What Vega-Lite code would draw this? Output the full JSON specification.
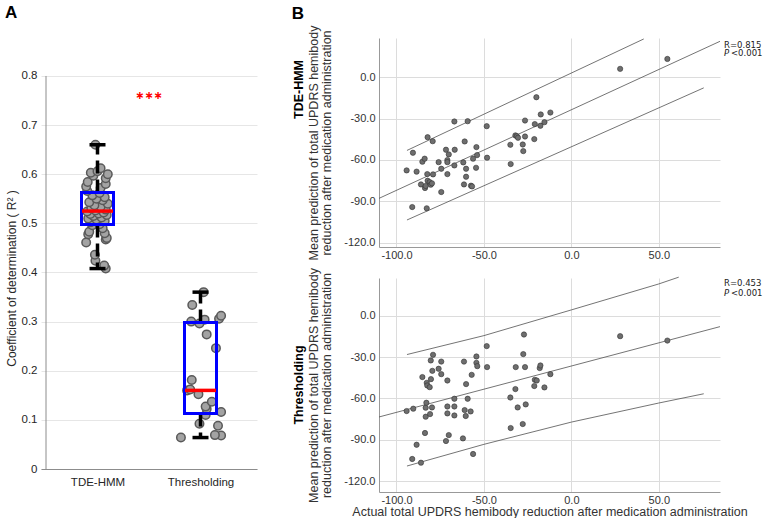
{
  "$schema": "https://vega.github.io/schema/vega-lite/v6.json",
  "padding": {"left": 5, "top": 4, "right": 0, "bottom": 0},
  "background": "white",
  "config": {
    "view": {"stroke": null},
    "font": "Liberation Sans",
    "axis": {"labelFont": "Liberation Sans", "titleFont": "Liberation Sans", "ticks": false, "labelColor": "#333333", "titleColor": "#333333", "titleFontWeight": "normal", "domainColor": "#999999", "gridColor": "#dcdcdc"},
    "title": {"font": "Liberation Sans", "fontWeight": "bold", "color": "#000000"}
  },
  "datasets": {
    "r2": [
      {"grp": 1, "xp": 1.08, "r2": 0.408}, {"grp": 1, "xp": 1.065, "r2": 0.414}, {"grp": 1, "xp": 0.98, "r2": 0.424}, {"grp": 1, "xp": 0.975, "r2": 0.436},
      {"grp": 1, "xp": 0.89, "r2": 0.461}, {"grp": 1, "xp": 1.08, "r2": 0.467}, {"grp": 1, "xp": 1.09, "r2": 0.470}, {"grp": 1, "xp": 0.91, "r2": 0.478},
      {"grp": 1, "xp": 1.07, "r2": 0.480}, {"grp": 1, "xp": 0.92, "r2": 0.483}, {"grp": 1, "xp": 1.05, "r2": 0.490}, {"grp": 1, "xp": 0.95, "r2": 0.496},
      {"grp": 1, "xp": 1.02, "r2": 0.498}, {"grp": 1, "xp": 0.93, "r2": 0.502}, {"grp": 1, "xp": 1.07, "r2": 0.505}, {"grp": 1, "xp": 0.99, "r2": 0.508},
      {"grp": 1, "xp": 0.91, "r2": 0.510}, {"grp": 1, "xp": 1.04, "r2": 0.512}, {"grp": 1, "xp": 0.96, "r2": 0.515}, {"grp": 1, "xp": 1.09, "r2": 0.517},
      {"grp": 1, "xp": 0.93, "r2": 0.519}, {"grp": 1, "xp": 1.01, "r2": 0.520}, {"grp": 1, "xp": 1.06, "r2": 0.522}, {"grp": 1, "xp": 0.90, "r2": 0.524},
      {"grp": 1, "xp": 0.98, "r2": 0.526}, {"grp": 1, "xp": 1.08, "r2": 0.528}, {"grp": 1, "xp": 0.94, "r2": 0.531}, {"grp": 1, "xp": 1.03, "r2": 0.534},
      {"grp": 1, "xp": 0.97, "r2": 0.537}, {"grp": 1, "xp": 1.10, "r2": 0.540}, {"grp": 1, "xp": 0.92, "r2": 0.543}, {"grp": 1, "xp": 1.05, "r2": 0.547},
      {"grp": 1, "xp": 0.99, "r2": 0.550}, {"grp": 1, "xp": 1.07, "r2": 0.553}, {"grp": 1, "xp": 0.95, "r2": 0.557}, {"grp": 1, "xp": 1.02, "r2": 0.562},
      {"grp": 1, "xp": 0.90, "r2": 0.566}, {"grp": 1, "xp": 1.03, "r2": 0.572}, {"grp": 1, "xp": 0.89, "r2": 0.575}, {"grp": 1, "xp": 1.08, "r2": 0.580},
      {"grp": 1, "xp": 0.905, "r2": 0.584}, {"grp": 1, "xp": 1.08, "r2": 0.592}, {"grp": 1, "xp": 0.96, "r2": 0.597}, {"grp": 1, "xp": 1.10, "r2": 0.600},
      {"grp": 1, "xp": 0.935, "r2": 0.603}, {"grp": 1, "xp": 1.00, "r2": 0.606}, {"grp": 1, "xp": 1.03, "r2": 0.612}, {"grp": 1, "xp": 0.98, "r2": 0.660},
      {"grp": 2, "xp": 1.81, "r2": 0.064}, {"grp": 2, "xp": 2.20, "r2": 0.068}, {"grp": 2, "xp": 2.14, "r2": 0.069}, {"grp": 2, "xp": 2.17, "r2": 0.088},
      {"grp": 2, "xp": 1.99, "r2": 0.092}, {"grp": 2, "xp": 2.05, "r2": 0.110}, {"grp": 2, "xp": 2.20, "r2": 0.116}, {"grp": 2, "xp": 2.06, "r2": 0.122},
      {"grp": 2, "xp": 2.05, "r2": 0.127}, {"grp": 2, "xp": 2.11, "r2": 0.137}, {"grp": 2, "xp": 1.98, "r2": 0.152}, {"grp": 2, "xp": 1.87, "r2": 0.160},
      {"grp": 2, "xp": 1.90, "r2": 0.162}, {"grp": 2, "xp": 1.915, "r2": 0.181}, {"grp": 2, "xp": 2.15, "r2": 0.246}, {"grp": 2, "xp": 2.06, "r2": 0.274},
      {"grp": 2, "xp": 1.99, "r2": 0.296}, {"grp": 2, "xp": 1.91, "r2": 0.300}, {"grp": 2, "xp": 2.04, "r2": 0.304}, {"grp": 2, "xp": 2.18, "r2": 0.306},
      {"grp": 2, "xp": 2.20, "r2": 0.312}, {"grp": 2, "xp": 1.92, "r2": 0.334}, {"grp": 2, "xp": 2.03, "r2": 0.360}
    ],
    "scatter": [
      {"m": "TDE-HMM", "a": -94.2, "p": -67.6}, {"m": "TDE-HMM", "a": -91.0, "p": -94.2}, {"m": "TDE-HMM", "a": -90.6, "p": -54.8}, {"m": "TDE-HMM", "a": -88.5, "p": -68.5},
      {"m": "TDE-HMM", "a": -86.0, "p": -77.8}, {"m": "TDE-HMM", "a": -85.2, "p": -61.3}, {"m": "TDE-HMM", "a": -83.9, "p": -59.1}, {"m": "TDE-HMM", "a": -83.7, "p": -80.4},
      {"m": "TDE-HMM", "a": -83.3, "p": -78.9}, {"m": "TDE-HMM", "a": -82.7, "p": -95.1}, {"m": "TDE-HMM", "a": -82.4, "p": -70.3}, {"m": "TDE-HMM", "a": -82.2, "p": -43.5},
      {"m": "TDE-HMM", "a": -82.2, "p": -75.1}, {"m": "TDE-HMM", "a": -81.0, "p": -76.1}, {"m": "TDE-HMM", "a": -80.4, "p": -78.0}, {"m": "TDE-HMM", "a": -79.7, "p": -77.0},
      {"m": "TDE-HMM", "a": -79.3, "p": -46.4}, {"m": "TDE-HMM", "a": -79.1, "p": -70.5}, {"m": "TDE-HMM", "a": -75.9, "p": -61.6}, {"m": "TDE-HMM", "a": -74.4, "p": -66.4},
      {"m": "TDE-HMM", "a": -74.4, "p": -83.3}, {"m": "TDE-HMM", "a": -71.7, "p": -52.6}, {"m": "TDE-HMM", "a": -70.9, "p": -60.1}, {"m": "TDE-HMM", "a": -70.9, "p": -61.6},
      {"m": "TDE-HMM", "a": -70.1, "p": -56.0}, {"m": "TDE-HMM", "a": -70.9, "p": -70.3}, {"m": "TDE-HMM", "a": -66.9, "p": -32.1}, {"m": "TDE-HMM", "a": -66.7, "p": -52.6},
      {"m": "TDE-HMM", "a": -66.9, "p": -64.0}, {"m": "TDE-HMM", "a": -61.8, "p": -61.8}, {"m": "TDE-HMM", "a": -61.4, "p": -77.8}, {"m": "TDE-HMM", "a": -61.0, "p": -46.6},
      {"m": "TDE-HMM", "a": -60.2, "p": -66.4}, {"m": "TDE-HMM", "a": -60.2, "p": -72.2}, {"m": "TDE-HMM", "a": -59.3, "p": -31.9}, {"m": "TDE-HMM", "a": -57.4, "p": -78.7},
      {"m": "TDE-HMM", "a": -56.8, "p": -79.2}, {"m": "TDE-HMM", "a": -56.2, "p": -59.1}, {"m": "TDE-HMM", "a": -54.3, "p": -50.7}, {"m": "TDE-HMM", "a": -53.9, "p": -56.5},
      {"m": "TDE-HMM", "a": -54.5, "p": -65.7}, {"m": "TDE-HMM", "a": -48.4, "p": -35.5}, {"m": "TDE-HMM", "a": -48.2, "p": -58.4}, {"m": "TDE-HMM", "a": -34.9, "p": -49.0},
      {"m": "TDE-HMM", "a": -34.7, "p": -63.0}, {"m": "TDE-HMM", "a": -32.0, "p": -42.2}, {"m": "TDE-HMM", "a": -31.2, "p": -42.8}, {"m": "TDE-HMM", "a": -30.5, "p": -43.9},
      {"m": "TDE-HMM", "a": -27.8, "p": -48.8}, {"m": "TDE-HMM", "a": -27.5, "p": -53.6}, {"m": "TDE-HMM", "a": -26.5, "p": -31.4}, {"m": "TDE-HMM", "a": -26.5, "p": -43.0},
      {"m": "TDE-HMM", "a": -21.2, "p": -44.9}, {"m": "TDE-HMM", "a": -20.9, "p": -34.0}, {"m": "TDE-HMM", "a": -20.0, "p": -14.5}, {"m": "TDE-HMM", "a": -17.7, "p": -35.2},
      {"m": "TDE-HMM", "a": -17.5, "p": -27.0}, {"m": "TDE-HMM", "a": -15.4, "p": -32.6}, {"m": "TDE-HMM", "a": -12.0, "p": -25.6}, {"m": "TDE-HMM", "a": 27.9, "p": 6.1},
      {"m": "TDE-HMM", "a": 54.9, "p": 13.3},
      {"m": "Thresholding", "a": -94.2, "p": -69.1}, {"m": "Thresholding", "a": -90.4, "p": -67.4}, {"m": "Thresholding", "a": -91.0, "p": -103.8}, {"m": "Thresholding", "a": -88.5, "p": -93.5},
      {"m": "Thresholding", "a": -86.0, "p": -106.5}, {"m": "Thresholding", "a": -85.2, "p": -44.5}, {"m": "Thresholding", "a": -83.7, "p": -85.0}, {"m": "Thresholding", "a": -83.3, "p": -73.2},
      {"m": "Thresholding", "a": -83.3, "p": -66.7}, {"m": "Thresholding", "a": -82.9, "p": -63.1}, {"m": "Thresholding", "a": -82.7, "p": -48.7}, {"m": "Thresholding", "a": -82.4, "p": -50.6},
      {"m": "Thresholding", "a": -81.0, "p": -51.8}, {"m": "Thresholding", "a": -80.8, "p": -71.3}, {"m": "Thresholding", "a": -80.3, "p": -46.0}, {"m": "Thresholding", "a": -79.7, "p": -66.5},
      {"m": "Thresholding", "a": -79.5, "p": -40.0}, {"m": "Thresholding", "a": -80.4, "p": -32.5}, {"m": "Thresholding", "a": -79.1, "p": -28.4}, {"m": "Thresholding", "a": -75.9, "p": -38.5},
      {"m": "Thresholding", "a": -74.4, "p": -33.3}, {"m": "Thresholding", "a": -74.4, "p": -42.4}, {"m": "Thresholding", "a": -71.7, "p": -90.8}, {"m": "Thresholding", "a": -70.9, "p": -47.0},
      {"m": "Thresholding", "a": -70.9, "p": -65.8}, {"m": "Thresholding", "a": -70.9, "p": -70.8}, {"m": "Thresholding", "a": -70.1, "p": -86.5}, {"m": "Thresholding", "a": -66.9, "p": -60.2},
      {"m": "Thresholding", "a": -66.9, "p": -65.8}, {"m": "Thresholding", "a": -66.9, "p": -72.3}, {"m": "Thresholding", "a": -62.0, "p": -88.9}, {"m": "Thresholding", "a": -61.4, "p": -33.3},
      {"m": "Thresholding", "a": -61.0, "p": -68.4}, {"m": "Thresholding", "a": -60.4, "p": -72.7}, {"m": "Thresholding", "a": -60.2, "p": -49.6}, {"m": "Thresholding", "a": -59.3, "p": -60.2},
      {"m": "Thresholding", "a": -57.6, "p": -69.4}, {"m": "Thresholding", "a": -57.0, "p": -42.9}, {"m": "Thresholding", "a": -56.2, "p": -100.2}, {"m": "Thresholding", "a": -54.3, "p": -29.6},
      {"m": "Thresholding", "a": -54.3, "p": -34.2}, {"m": "Thresholding", "a": -53.8, "p": -36.6}, {"m": "Thresholding", "a": -48.4, "p": -22.1}, {"m": "Thresholding", "a": -48.2, "p": -37.3},
      {"m": "Thresholding", "a": -34.9, "p": -59.3}, {"m": "Thresholding", "a": -34.7, "p": -81.4}, {"m": "Thresholding", "a": -32.0, "p": -53.2}, {"m": "Thresholding", "a": -31.8, "p": -37.3},
      {"m": "Thresholding", "a": -30.7, "p": -66.5}, {"m": "Thresholding", "a": -27.8, "p": -78.5}, {"m": "Thresholding", "a": -27.5, "p": -27.9}, {"m": "Thresholding", "a": -27.1, "p": -13.7},
      {"m": "Thresholding", "a": -26.5, "p": -37.3}, {"m": "Thresholding", "a": -26.1, "p": -64.3}, {"m": "Thresholding", "a": -21.2, "p": -51.0}, {"m": "Thresholding", "a": -20.9, "p": -46.5},
      {"m": "Thresholding", "a": -19.8, "p": -47.0}, {"m": "Thresholding", "a": -18.1, "p": -38.0}, {"m": "Thresholding", "a": -17.7, "p": -36.1}, {"m": "Thresholding", "a": -15.4, "p": -52.0},
      {"m": "Thresholding", "a": -12.0, "p": -42.4}, {"m": "Thresholding", "a": 27.9, "p": -14.9}, {"m": "Thresholding", "a": 54.9, "p": -18.1}
    ],
    "lines": [
      {"m": "TDE-HMM", "band": "fit", "a": -110, "p": -87.9}, {"m": "TDE-HMM", "band": "fit", "a": 85, "p": 26.1},
      {"m": "TDE-HMM", "band": "upper", "a": -94, "p": -53.1}, {"m": "TDE-HMM", "band": "upper", "a": 41.4, "p": 27.8},
      {"m": "TDE-HMM", "band": "lower", "a": -94, "p": -103.6}, {"m": "TDE-HMM", "band": "lower", "a": 75.7, "p": -7.7},
      {"m": "Thresholding", "band": "fit", "a": -110, "p": -73.4}, {"m": "Thresholding", "band": "fit", "a": 85, "p": -8.0},
      {"m": "Thresholding", "band": "upper", "a": -94, "p": -28.2}, {"m": "Thresholding", "band": "upper", "a": -50, "p": -14.5}, {"m": "Thresholding", "band": "upper", "a": 0, "p": 4.1}, {"m": "Thresholding", "band": "upper", "a": 50, "p": 22.9}, {"m": "Thresholding", "band": "upper", "a": 61.4, "p": 27.8},
      {"m": "Thresholding", "band": "lower", "a": -94, "p": -108.9}, {"m": "Thresholding", "band": "lower", "a": -50, "p": -93.2}, {"m": "Thresholding", "band": "lower", "a": 0, "p": -77.1}, {"m": "Thresholding", "band": "lower", "a": 50, "p": -63.3}, {"m": "Thresholding", "band": "lower", "a": 75.7, "p": -56.6}
    ],
    "stats": [
      {"m": "TDE-HMM", "r": "R=0.815", "pv": "<0.001"},
      {"m": "Thresholding", "r": "R=0.453", "pv": "<0.001"}
    ]
  },
  "bounds": "flush",
  "spacing": 122,
  "hconcat": [
    {
      "width": 216,
      "height": 431,
      "title": {"text": "A", "anchor": "start", "fontSize": 17, "offset": 16},
      "layer": [
        {
          "data": {"name": "r2"},
          "mark": {"type": "circle", "size": 72, "fill": "#a3a3a3", "stroke": "#595959", "strokeWidth": 1.5, "opacity": 1},
          "encoding": {
            "x": {"field": "xp", "type": "quantitative", "scale": {"domain": [0.5, 2.5], "nice": false, "zero": false},
                  "axis": {"values": [1, 2], "labelExpr": "datum.value == 1 ? 'TDE-HMM' : 'Thresholding'", "title": null, "grid": false, "labelFontSize": 11.5, "labelPadding": 7, "domainColor": "#8c8c8c", "labelColor": "#262626"}},
            "y": {"field": "r2", "type": "quantitative", "scale": {"domain": [0, 0.8773], "nice": false},
                  "axis": {"values": [0, 0.1, 0.2, 0.3, 0.4, 0.5, 0.6, 0.7, 0.8], "format": "~g", "title": "Coefficient of determination ( R² )", "titleY": 240, "domain": false, "grid": true, "gridColor": "#e6e6e6", "labelFontSize": 11.5, "titleFontSize": 12, "labelPadding": 4, "titlePadding": 3, "labelColor": "#262626", "titleColor": "#262626"}}
          }
        },
        {
          "data": {"values": [{"lo": 0, "hi": 0.8}]},
          "mark": {"type": "rule", "color": "#8c8c8c", "strokeWidth": 1},
          "encoding": {"x": {"datum": 0.5}, "y": {"field": "lo", "type": "quantitative"}, "y2": {"field": "hi"}}
        },
        {
          "data": {"name": "r2"},
          "transform": [
            {"aggregate": [
              {"op": "min", "field": "r2", "as": "lo"},
              {"op": "q1", "field": "r2", "as": "q1"},
              {"op": "median", "field": "r2", "as": "med"},
              {"op": "q3", "field": "r2", "as": "q3"},
              {"op": "max", "field": "r2", "as": "hi"}
            ], "groupby": ["grp"]}
          ],
          "encoding": {"x": {"field": "grp", "type": "quantitative"}},
          "layer": [
            {"mark": {"type": "rule", "color": "#000000", "strokeWidth": 3.5, "strokeDash": [13, 6]}, "encoding": {"y": {"field": "q3", "type": "quantitative"}, "y2": {"field": "hi"}}},
            {"mark": {"type": "rule", "color": "#000000", "strokeWidth": 3.5, "strokeDash": [13, 6]}, "encoding": {"y": {"field": "q1", "type": "quantitative"}, "y2": {"field": "lo"}}},
            {"mark": {"type": "tick", "orient": "horizontal", "color": "#000000", "size": 16, "thickness": 3.5, "opacity": 1}, "encoding": {"y": {"field": "hi", "type": "quantitative"}}},
            {"mark": {"type": "tick", "orient": "horizontal", "color": "#000000", "size": 16, "thickness": 3.5, "opacity": 1}, "encoding": {"y": {"field": "lo", "type": "quantitative"}}},
            {"mark": {"type": "bar", "size": 32, "fill": "#ffffff", "fillOpacity": 0, "stroke": "#0000ff", "strokeWidth": 3}, "encoding": {"y": {"field": "q1", "type": "quantitative"}, "y2": {"field": "q3"}}},
            {"mark": {"type": "tick", "orient": "horizontal", "color": "#ff0000", "size": 31, "thickness": 3.5, "opacity": 1}, "encoding": {"y": {"field": "med", "type": "quantitative"}}}
          ]
        },
        {
          "data": {"values": [{"sig": "∗∗∗"}]},
          "mark": {"type": "text", "color": "#ff0000", "font": "DejaVu Sans", "fontSize": 11, "fontWeight": "bold", "baseline": "middle", "align": "center"},
          "encoding": {"x": {"datum": 1.5}, "y": {"datum": 0.76}, "text": {"field": "sig"}}
        }
      ]
    },
    {
      "title": {"text": "B", "anchor": "start", "fontSize": 17, "offset": 2, "dx": -1},
      "bounds": "flush",
      "spacing": 31,
      "vconcat": [
        {
          "width": 341,
          "height": 209,
          "title": {"text": "TDE-HMM", "orient": "left", "anchor": "middle", "fontSize": 12.5, "offset": 2, "dx": 53},
          "layer": [
            {
              "data": {"name": "lines"},
              "transform": [{"filter": "datum.m == 'TDE-HMM'"}],
              "mark": {"type": "line", "color": "#505050", "strokeWidth": 0.8},
              "encoding": {
                "x": {"field": "a", "type": "quantitative", "scale": {"domain": [-110, 85], "nice": false, "zero": false},
                      "axis": {"values": [-100, -50, 0, 50], "labelExpr": "datum.value + '.0'", "title": null, "grid": true, "labelFontSize": 11, "labelPadding": 2}},
                "y": {"field": "p", "type": "quantitative", "scale": {"domain": [-123.2, 28.5], "nice": false, "zero": false},
                      "axis": {"values": [-120, -90, -60, -30, 0], "labelExpr": "datum.value + '.0'", "title": ["Mean prediction of total UPDRS hemibody", "reduction after medication administration"], "titleFontSize": 12.5, "titleLineHeight": 13.5, "grid": true, "labelFontSize": 11, "labelPadding": 4, "titlePadding": 10}},
                "detail": {"field": "band"}
              }
            },
            {
              "data": {"name": "scatter"},
              "transform": [{"filter": "datum.m == 'TDE-HMM'"}],
              "mark": {"type": "circle", "size": 28, "fill": "#6e6e6e", "stroke": "#333333", "strokeWidth": 0.6, "opacity": 1},
              "encoding": {"x": {"field": "a", "type": "quantitative"}, "y": {"field": "p", "type": "quantitative"}}
            },
            {
              "data": {"name": "stats"},
              "transform": [{"filter": "datum.m == 'TDE-HMM'"}],
              "mark": {"type": "text", "font": "DejaVu Sans", "fontSize": 8.5, "align": "left", "baseline": "middle", "dx": 4, "color": "#222222"},
              "encoding": {"x": {"datum": 85}, "y": {"datum": 23.7}, "text": {"field": "r"}}
            },
            {
              "data": {"name": "stats"},
              "transform": [{"filter": "datum.m == 'TDE-HMM'"}],
              "mark": {"type": "text", "font": "DejaVu Sans", "fontSize": 8.5, "fontStyle": "italic", "align": "left", "baseline": "middle", "dx": 4, "color": "#222222"},
              "encoding": {"x": {"datum": 85}, "y": {"datum": 17.6}, "text": {"value": "P"}}
            },
            {
              "data": {"name": "stats"},
              "transform": [{"filter": "datum.m == 'TDE-HMM'"}],
              "mark": {"type": "text", "font": "DejaVu Sans", "fontSize": 8.5, "align": "left", "baseline": "middle", "dx": 11, "color": "#222222"},
              "encoding": {"x": {"datum": 85}, "y": {"datum": 17.6}, "text": {"field": "pv"}}
            }
          ]
        },
        {
          "width": 341,
          "height": 214,
          "title": {"text": "Thresholding", "orient": "left", "anchor": "middle", "fontSize": 12.5, "offset": 2},
          "layer": [
            {
              "data": {"name": "lines"},
              "transform": [{"filter": "datum.m == 'Thresholding'"}],
              "mark": {"type": "line", "color": "#505050", "strokeWidth": 0.8},
              "encoding": {
                "x": {"field": "a", "type": "quantitative", "scale": {"domain": [-110, 85], "nice": false, "zero": false},
                      "axis": {"values": [-100, -50, 0, 50], "labelExpr": "datum.value + '.0'", "title": "Actual total UPDRS hemibody reduction after medication administration", "titleFontSize": 12.5, "titlePadding": 0, "grid": true, "labelFontSize": 11, "labelPadding": 2}},
                "y": {"field": "p", "type": "quantitative", "scale": {"domain": [-127.7, 27.2], "nice": false, "zero": false},
                      "axis": {"values": [-120, -90, -60, -30, 0], "labelExpr": "datum.value + '.0'", "title": ["Mean prediction of total UPDRS hemibody", "reduction after medication administration"], "titleFontSize": 12.5, "titleLineHeight": 13.5, "grid": true, "labelFontSize": 11, "labelPadding": 4, "titlePadding": 10}},
                "detail": {"field": "band"}
              }
            },
            {
              "data": {"name": "scatter"},
              "transform": [{"filter": "datum.m == 'Thresholding'"}],
              "mark": {"type": "circle", "size": 28, "fill": "#6e6e6e", "stroke": "#333333", "strokeWidth": 0.6, "opacity": 1},
              "encoding": {"x": {"field": "a", "type": "quantitative"}, "y": {"field": "p", "type": "quantitative"}}
            },
            {
              "data": {"name": "stats"},
              "transform": [{"filter": "datum.m == 'Thresholding'"}],
              "mark": {"type": "text", "font": "DejaVu Sans", "fontSize": 8.5, "align": "left", "baseline": "middle", "dx": 4, "color": "#222222"},
              "encoding": {"x": {"datum": 85}, "y": {"datum": 23.6}, "text": {"field": "r"}}
            },
            {
              "data": {"name": "stats"},
              "transform": [{"filter": "datum.m == 'Thresholding'"}],
              "mark": {"type": "text", "font": "DejaVu Sans", "fontSize": 8.5, "fontStyle": "italic", "align": "left", "baseline": "middle", "dx": 4, "color": "#222222"},
              "encoding": {"x": {"datum": 85}, "y": {"datum": 16.2}, "text": {"value": "P"}}
            },
            {
              "data": {"name": "stats"},
              "transform": [{"filter": "datum.m == 'Thresholding'"}],
              "mark": {"type": "text", "font": "DejaVu Sans", "fontSize": 8.5, "align": "left", "baseline": "middle", "dx": 11, "color": "#222222"},
              "encoding": {"x": {"datum": 85}, "y": {"datum": 16.2}, "text": {"field": "pv"}}
            }
          ]
        }
      ]
    }
  ]
}
